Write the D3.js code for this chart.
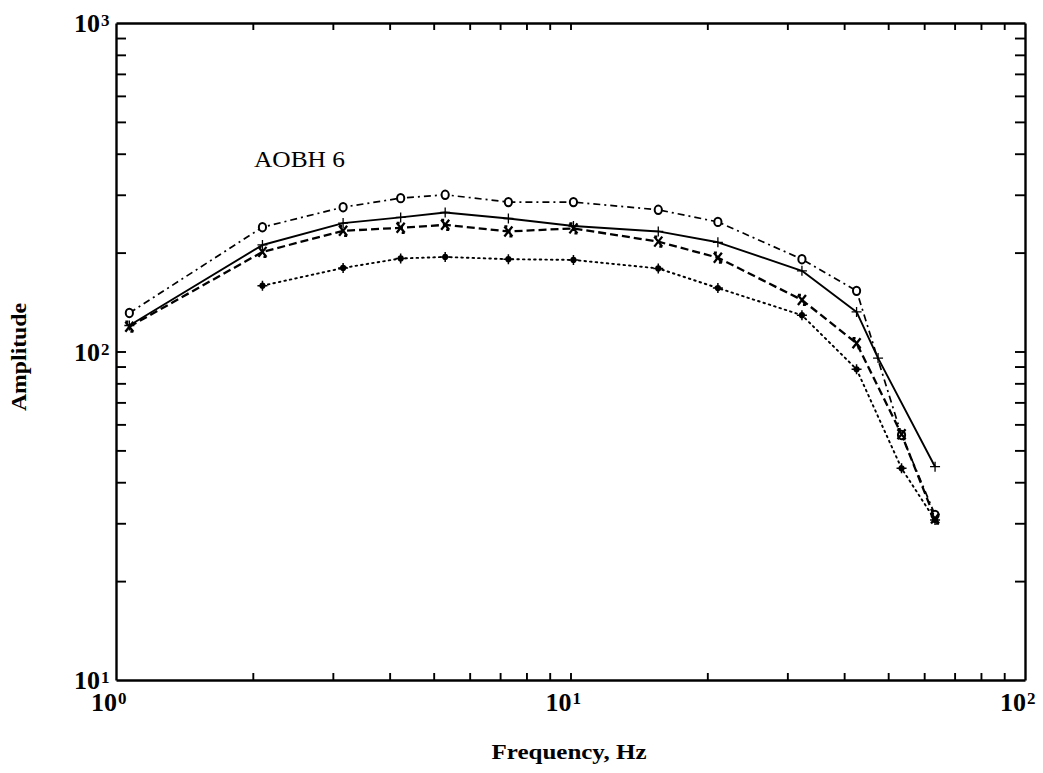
<!DOCTYPE html>
<html>
<head>
<meta charset="utf-8">
<script src="https://cdn.jsdelivr.net/npm/d3@7/dist/d3.min.js"></script>
<style>
  html, body { margin: 0; padding: 0; background: #fff; }
  svg { display: block; }
  text { font-family: "Liberation Serif", "Times New Roman", Times, serif; fill: #000; }
</style>
</head>
<body>
<svg id="chart" width="1043" height="773"></svg>
<script>
// ---- data ----
const freqCircle = [1.07, 2.1, 3.16, 4.23, 5.3, 7.3, 10.15, 15.6, 21.1, 32.3, 42.6, 53.5, 63.4];
const ampCircle  = [131, 239, 275, 293, 300, 285, 285, 270, 248, 191, 153, 55.7, 31.8];

const freqPlus = [1.07, 2.1, 3.16, 4.23, 5.3, 7.3, 10.15, 15.6, 21.1, 32.3, 42.6, 47.5, 63.4];
const ampPlus  = [120, 211, 246, 256, 265, 254, 241, 232, 215, 176, 132, 95.5, 44.6];

const freqCross = [1.07, 2.1, 3.16, 4.23, 5.3, 7.3, 10.15, 15.6, 21.1, 32.3, 42.6, 53.5, 63.4];
const ampCross  = [119, 201, 233, 238, 243, 232, 237, 216, 193, 143.5, 106, 56, 31];

const freqStar = [2.1, 3.16, 4.23, 5.3, 7.3, 10.15, 15.6, 21.1, 32.3, 42.6, 53.5, 63.4];
const ampStar  = [158.6, 179.6, 192, 194, 191, 190, 179, 156, 129, 88.3, 44.1, 30.7];

const xMajorTicks = [1, 10, 100];
const xMajorLabels = ["0", "1", "2"];
const yMajorTicks = [10, 100, 1000];
const yMajorLabels = ["1", "2", "3"];

const chartTitle = "AOBH 6";
const xTitle = "Frequency, Hz";
const yTitle = "Amplitude";

// ---- layout ----
const svg = d3.select("#chart");
const L = 116, R = 1025, T = 23, B = 680;

const x = d3.scaleLog().domain([1, 100]).range([L, R]);
const y = d3.scaleLog().domain([10, 1000]).range([B, T]);

function minorTicks(lo, hi) {
  const out = [];
  for (let d = lo; d < hi; d *= 10)
    for (let k = 1; k <= 9; k++) out.push(d * k);
  out.push(hi);
  return out.filter(v => v > lo && v < hi);
}
const xTickVals = minorTicks(1, 100);
const yTickVals = minorTicks(10, 1000);

function styleAxis(g) {
  g.selectAll("path.domain").attr("stroke", "#000").attr("stroke-width", 2.4);
  g.selectAll(".tick line").attr("stroke", "#000").attr("stroke-width", 1.9);
  g.selectAll(".tick text").remove();
}

svg.append("g").attr("transform", `translate(0,${B})`)
  .call(d3.axisBottom(x).tickValues(xTickVals).tickSizeInner(-7).tickSizeOuter(0).tickFormat(""))
  .call(styleAxis);
svg.append("g").attr("transform", `translate(0,${T})`)
  .call(d3.axisTop(x).tickValues(xTickVals).tickSizeInner(-7).tickSizeOuter(0).tickFormat(""))
  .call(styleAxis);
svg.append("g").attr("transform", `translate(${L},0)`)
  .call(d3.axisLeft(y).tickValues(yTickVals).tickSizeInner(-10).tickSizeOuter(0).tickFormat(""))
  .call(styleAxis);
svg.append("g").attr("transform", `translate(${R},0)`)
  .call(d3.axisRight(y).tickValues(yTickVals).tickSizeInner(-10).tickSizeOuter(0).tickFormat(""))
  .call(styleAxis);

// ---- tick labels ----
const baseFont = 26, supFont = 17;
xMajorTicks.forEach((v, i) => {
  const px = x(v);
  svg.append("text").attr("x", px + 1).attr("y", B + 31)
    .attr("text-anchor", "end").attr("font-size", baseFont).attr("font-weight", "bold").text("10");
  svg.append("text").attr("x", px + 2).attr("y", B + 24)
    .attr("text-anchor", "start").attr("font-size", supFont).attr("font-weight", "bold").text(xMajorLabels[i]);
});
yMajorTicks.forEach((v, i) => {
  const py = y(v);
  svg.append("text").attr("x", L - 16).attr("y", py + 9)
    .attr("text-anchor", "end").attr("font-size", baseFont).attr("font-weight", "bold").text("10");
  svg.append("text").attr("x", L - 15).attr("y", py + 3)
    .attr("text-anchor", "start").attr("font-size", supFont).attr("font-weight", "bold").text(yMajorLabels[i]);
});

// ---- titles ----
svg.append("text").attr("x", 569).attr("y", 759).attr("text-anchor", "middle")
  .attr("font-size", 22).attr("font-weight", "bold").attr("textLength", 155).attr("lengthAdjust", "spacingAndGlyphs").text(xTitle);
svg.append("text").attr("transform", "translate(26,357) rotate(-90)").attr("text-anchor", "middle")
  .attr("font-size", 21).attr("font-weight", "bold").attr("textLength", 108).attr("lengthAdjust", "spacingAndGlyphs").text(yTitle);
svg.append("text").attr("x", 254).attr("y", 167).attr("text-anchor", "start")
  .attr("font-size", 23).attr("textLength", 91).attr("lengthAdjust", "spacingAndGlyphs").text(chartTitle);

// ---- series ----
const line = d3.line().x(d => x(d[0])).y(d => y(d[1]));
const zip = (a, b) => a.map((v, i) => [v, b[i]]);

const series = [
  { data: zip(freqStar, ampStar), dash: "1.6,4", width: 1.9, cap: "round", marker: "star" },
  { data: zip(freqCircle, ampCircle), dash: "7,4,2,4", width: 1.7, cap: "butt", marker: "circle" },
  { data: zip(freqCross, ampCross), dash: "8,4", width: 2.3, cap: "butt", marker: "cross" },
  { data: zip(freqPlus, ampPlus), dash: null, width: 1.9, cap: "butt", marker: "plus" }
];

series.forEach(s => {
  svg.append("path").datum(s.data).attr("d", line)
    .attr("fill", "none").attr("stroke", "#000").attr("stroke-width", s.width)
    .attr("stroke-linecap", s.cap).attr("stroke-linejoin", "round")
    .attr("stroke-dasharray", s.dash);
});

series.forEach(s => {
  const g = svg.append("g");
  s.data.forEach(d => {
    const cx = x(d[0]), cy = y(d[1]);
    if (s.marker === "circle") {
      g.append("ellipse").attr("cx", cx).attr("cy", cy).attr("rx", 3.6).attr("ry", 4.2)
        .attr("fill", "#fff").attr("stroke", "#000").attr("stroke-width", 2);
    } else if (s.marker === "plus") {
      g.append("path").attr("d", `M${cx - 5},${cy}H${cx + 5}M${cx},${cy - 5}V${cy + 5}`)
        .attr("stroke", "#000").attr("stroke-width", 1.3).attr("fill", "none");
    } else if (s.marker === "cross") {
      g.append("path").attr("d", `M${cx - 4},${cy - 5}L${cx + 4},${cy + 5}M${cx + 4},${cy - 5}L${cx - 4},${cy + 5}M${cx - 4},${cy - 5}H${cx - 1}M${cx + 1},${cy + 5}H${cx + 4}`)
        .attr("stroke", "#000").attr("stroke-width", 2.3).attr("fill", "none");
    } else if (s.marker === "star") {
      g.append("path").attr("d", d3.symbol().type(d3.symbolCircle).size(30)())
        .attr("transform", `translate(${cx},${cy})`).attr("fill", "#000");
      g.append("path").attr("d", `M${cx - 5},${cy}H${cx + 5}M${cx},${cy - 5}V${cy + 5}`)
        .attr("stroke", "#000").attr("stroke-width", 1.5).attr("fill", "none");
    }
  });
});
</script>
</body>
</html>
